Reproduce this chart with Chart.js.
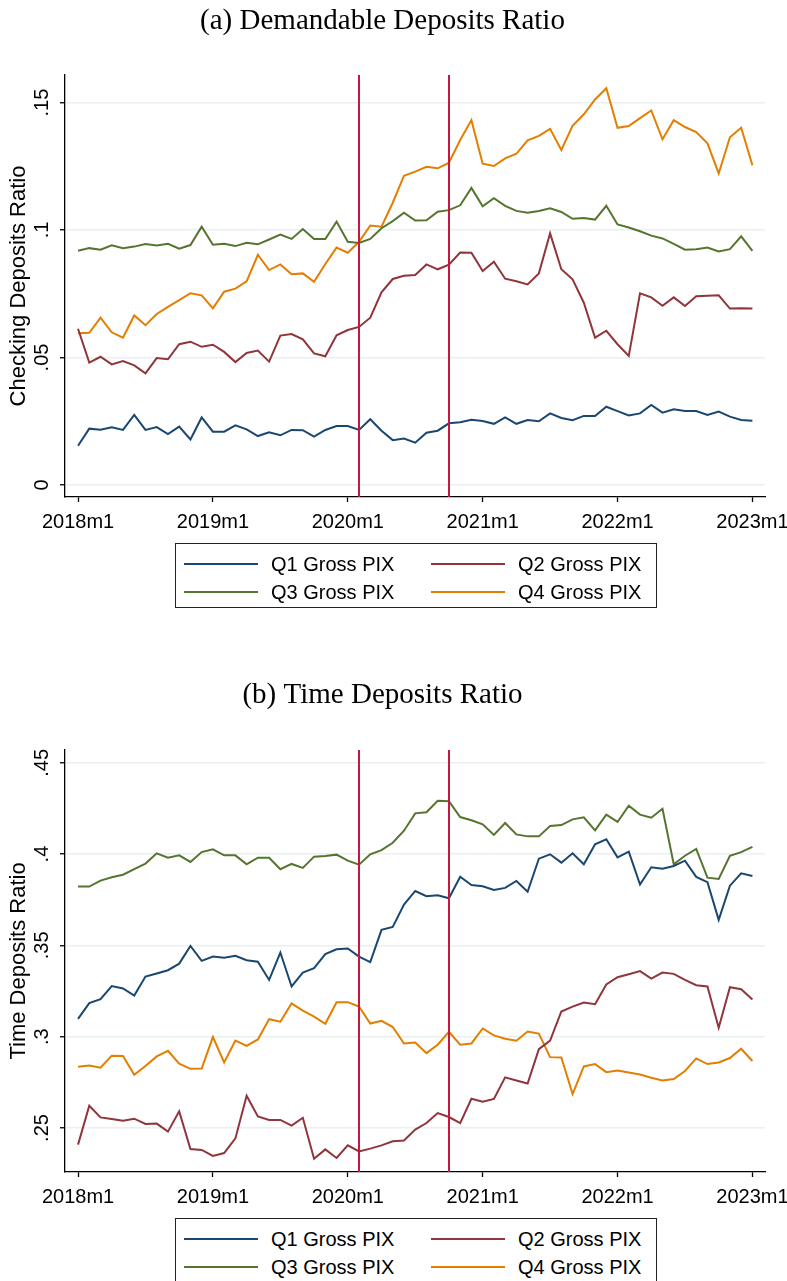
<!DOCTYPE html>
<html>
<head>
<meta charset="utf-8">
<script src="https://cdn.jsdelivr.net/npm/chart.js@4.4.1/dist/chart.umd.min.js"></script>
<style>
  body { margin: 0; background: #fff; }
  #page { position: relative; width: 787px; height: 1281px; overflow: hidden; background: #fff; }
  canvas { position: absolute; left: 0; }
  .legend {
    position: absolute; left: 175px; width: 482px; height: 65px;
    box-sizing: border-box; border: 1px solid #222;
    padding: 6px 0 0 8px;
    display: grid; grid-template-columns: 247px 226px; grid-auto-rows: 28px;
    font-family: "Liberation Sans", Arial, sans-serif; font-size: 20px; color: #000;
  }
  .legend-item { display: flex; align-items: center; white-space: nowrap; }
  .swatch { display: inline-block; width: 74px; height: 2px; margin-right: 13px; }
</style>
</head>
<body>
<div id="page">
  <canvas id="checking" width="787" height="545" style="top:0"></canvas>
  <div class="legend" id="legend-checking" style="top:543px"></div>
  <canvas id="time" width="787" height="575" style="top:640px"></canvas>
  <div class="legend" id="legend-time" style="top:1218px"></div>
</div>
<script>
// months since 2018m1 (0 .. 60)
const xTickMonths = [0, 12, 24, 36, 48, 60];
const xTickLabels = ["2018m1", "2019m1", "2020m1", "2021m1", "2022m1", "2023m1"];
const pixLines = [25, 33];
const seriesNames = ["Q1 Gross PIX", "Q2 Gross PIX", "Q3 Gross PIX", "Q4 Gross PIX"];
const seriesColors = ["#1a476f", "#90353b", "#55752f", "#e37e00"];

const checkingTicks = [0, 0.05, 0.1, 0.15];
const timeTicks = [0.25, 0.3, 0.35, 0.4, 0.45];

const checkingQ1 = [0.0154, 0.0221, 0.0217, 0.0226, 0.0216, 0.0275, 0.0216, 0.0227, 0.0200, 0.0229,
  0.0179, 0.0265, 0.0209, 0.0209, 0.0234, 0.0218, 0.0192, 0.0207, 0.0195, 0.0216,
  0.0215, 0.0190, 0.0216, 0.0231, 0.0231, 0.0216, 0.0258, 0.0213, 0.0176, 0.0182,
  0.0166, 0.0205, 0.0213, 0.0242, 0.0246, 0.0256, 0.0251, 0.0240, 0.0265, 0.0240,
  0.0255, 0.0250, 0.0281, 0.0263, 0.0254, 0.0271, 0.0271, 0.0307, 0.0290, 0.0273,
  0.0281, 0.0314, 0.0284, 0.0297, 0.0290, 0.0290, 0.0275, 0.0288, 0.0268, 0.0255,
  0.0252];
const checkingQ2 = [0.0613, 0.0480, 0.0503, 0.0473, 0.0486, 0.0469, 0.0438, 0.0498, 0.0493, 0.0552,
  0.0562, 0.0542, 0.0550, 0.0522, 0.0482, 0.0518, 0.0527, 0.0484, 0.0586, 0.0592,
  0.0571, 0.0516, 0.0505, 0.0587, 0.0608, 0.0620, 0.0656, 0.0756, 0.0808, 0.0821,
  0.0824, 0.0865, 0.0846, 0.0864, 0.0912, 0.0911, 0.0839, 0.0876, 0.0809, 0.0799,
  0.0787, 0.0830, 0.0987, 0.0846, 0.0807, 0.0715, 0.0578, 0.0605, 0.0552, 0.0506,
  0.0752, 0.0736, 0.0703, 0.0736, 0.0702, 0.0740, 0.0742, 0.0744, 0.0692, 0.0693,
  0.0692];
const checkingQ3 = [0.0919, 0.0929, 0.0923, 0.0940, 0.0929, 0.0935, 0.0945, 0.0939, 0.0946, 0.0927,
  0.0941, 0.1013, 0.0942, 0.0946, 0.0937, 0.0950, 0.0944, 0.0963, 0.0982, 0.0965,
  0.1004, 0.0965, 0.0965, 0.1033, 0.0954, 0.0949, 0.0965, 0.1007, 0.1035, 0.1068,
  0.1037, 0.1038, 0.1072, 0.1078, 0.1097, 0.1165, 0.1093, 0.1125, 0.1095, 0.1075,
  0.1068, 0.1075, 0.1085, 0.1071, 0.1044, 0.1047, 0.1041, 0.1095, 0.1022, 0.1010,
  0.0995, 0.0978, 0.0967, 0.0946, 0.0923, 0.0925, 0.0931, 0.0916, 0.0925, 0.0975,
  0.0918];
const checkingQ4 = [0.0595, 0.0597, 0.0656, 0.0599, 0.0578, 0.0665, 0.0627, 0.0671, 0.0699, 0.0725,
  0.0752, 0.0744, 0.0693, 0.0758, 0.0770, 0.0799, 0.0903, 0.0843, 0.0865, 0.0827,
  0.0830, 0.0797, 0.0867, 0.0931, 0.0911, 0.0954, 0.1018, 0.1013, 0.1107, 0.1213,
  0.1229, 0.1248, 0.1242, 0.1264, 0.1353, 0.1431, 0.1260, 0.1251, 0.1281, 0.1299,
  0.1352, 0.1369, 0.1397, 0.1314, 0.1409, 0.1454, 0.1512, 0.1556, 0.1401, 0.1408,
  0.1439, 0.1469, 0.1356, 0.1431, 0.1404, 0.1384, 0.1340, 0.1222, 0.1364, 0.1401,
  0.1254];

const timeQ1 = [0.3098, 0.3184, 0.3206, 0.3277, 0.3264, 0.3225, 0.3329, 0.3346, 0.3364, 0.3400,
  0.3497, 0.3415, 0.3439, 0.3433, 0.3443, 0.3419, 0.3411, 0.3311, 0.3461, 0.3275,
  0.3351, 0.3375, 0.3452, 0.3479, 0.3483, 0.3439, 0.3408, 0.3585, 0.3601, 0.3723,
  0.3798, 0.3769, 0.3775, 0.3758, 0.3876, 0.3831, 0.3824, 0.3804, 0.3815, 0.3853,
  0.3794, 0.3975, 0.3999, 0.3953, 0.4004, 0.3944, 0.4054, 0.4081, 0.3982, 0.4013,
  0.3833, 0.3928, 0.3920, 0.3935, 0.3964, 0.3875, 0.3846, 0.3640, 0.3827, 0.3895,
  0.3880];
const timeQ2 = [0.2409, 0.2622, 0.2558, 0.2549, 0.2540, 0.2551, 0.2522, 0.2524, 0.2480, 0.2591,
  0.2385, 0.2380, 0.2347, 0.2363, 0.2443, 0.2677, 0.2563, 0.2544, 0.2544, 0.2513,
  0.2556, 0.2332, 0.2383, 0.2336, 0.2405, 0.2372, 0.2387, 0.2405, 0.2427, 0.2432,
  0.2491, 0.2527, 0.2582, 0.2560, 0.2527, 0.2660, 0.2644, 0.2659, 0.2777, 0.2760,
  0.2744, 0.2932, 0.2979, 0.3138, 0.3165, 0.3187, 0.3178, 0.3286, 0.3326, 0.3342,
  0.3359, 0.3318, 0.3351, 0.3344, 0.3311, 0.3282, 0.3275, 0.3049, 0.3271, 0.3260,
  0.3204];
const timeQ3 = [0.3822, 0.3822, 0.3855, 0.3873, 0.3887, 0.3918, 0.3948, 0.4004, 0.3980, 0.3993,
  0.3957, 0.4011, 0.4026, 0.3993, 0.3993, 0.3944, 0.3980, 0.3980, 0.3917, 0.3946,
  0.3924, 0.3986, 0.3990, 0.3997, 0.3964, 0.3942, 0.3999, 0.4022, 0.4062, 0.4128,
  0.4223, 0.4229, 0.4292, 0.4290, 0.4203, 0.4185, 0.4163, 0.4105, 0.4170, 0.4108,
  0.4097, 0.4097, 0.4154, 0.4159, 0.4190, 0.4201, 0.4130, 0.4216, 0.4176, 0.4265,
  0.4216, 0.4199, 0.4248, 0.3944, 0.3991, 0.4028, 0.3871, 0.3864, 0.3990, 0.4011,
  0.4040];
const timeQ4 = [0.2835, 0.2842, 0.2830, 0.2896, 0.2894, 0.2792, 0.2839, 0.2892, 0.2923, 0.2852,
  0.2824, 0.2826, 0.2998, 0.2859, 0.2979, 0.2950, 0.2985, 0.3096, 0.3082, 0.3182,
  0.3143, 0.3110, 0.3071, 0.3189, 0.3189, 0.3165, 0.3072, 0.3087, 0.3053, 0.2963,
  0.2968, 0.2910, 0.2956, 0.3027, 0.2956, 0.2963, 0.3045, 0.3007, 0.2989, 0.2978,
  0.3028, 0.3017, 0.2888, 0.2886, 0.2686, 0.2837, 0.2850, 0.2806, 0.2815, 0.2804,
  0.2793, 0.2775, 0.2760, 0.2768, 0.2812, 0.2881, 0.2850, 0.2859, 0.2883, 0.2934,
  0.2867];

const sans = "'Liberation Sans', Arial, sans-serif";
const serif = "'Liberation Serif', 'Times New Roman', serif";

// Stata style: ".05" instead of "0.05"
const stataNum = (v) => (v === 0 ? "0" : String(+v.toFixed(3)).replace(/^0\./, "."));

const pixLinePlugin = {
  id: "pixLines",
  afterDatasetsDraw(chart) {
    const { ctx, chartArea, scales } = chart;
    ctx.save();
    ctx.strokeStyle = "#c8163f";
    ctx.lineWidth = 2;
    pixLines.forEach((m) => {
      const x = Math.round(scales.x.getPixelForValue(m));
      ctx.beginPath();
      ctx.moveTo(x, chartArea.top);
      ctx.lineTo(x, chartArea.bottom);
      ctx.stroke();
    });
    ctx.restore();
  },
};

const buildLegend = (chart, legend) => {
  legend.innerHTML = "";
  chart.data.datasets.forEach((dataset) => {
    const item = document.createElement("div");
    item.className = "legend-item";
    const swatch = document.createElement("span");
    swatch.className = "swatch";
    swatch.style.background = dataset.borderColor;
    item.appendChild(swatch);
    item.appendChild(document.createTextNode(dataset.label));
    legend.appendChild(item);
  });
};

const makeChart = (canvasId, legendId, cfg) => {
  const chart = new Chart(document.getElementById(canvasId), {
    type: "line",
    data: {
      datasets: cfg.series.map((values, k) => ({
        label: seriesNames[k],
        data: values.map((v, i) => ({ x: i, y: v })),
        borderColor: seriesColors[k],
        backgroundColor: seriesColors[k],
        borderWidth: 2,
        pointRadius: 0,
        tension: 0,
        fill: false,
      })),
    },
    options: {
      responsive: false,
      animation: false,
      devicePixelRatio: 1,
      layout: { padding: { left: 0, right: 22, top: 0, bottom: 0 } },
      plugins: {
        legend: { display: false },
        tooltip: { enabled: false },
        title: {
          display: true,
          text: cfg.title,
          color: "#000",
          font: { family: serif, size: 29, weight: "normal" },
          padding: cfg.titlePad,
        },
      },
      scales: {
        x: {
          type: "linear",
          min: -1.16,
          max: 61.12,
          afterBuildTicks: (axis) => {
            axis.ticks = xTickMonths.map((m) => ({ value: m }));
          },
          afterFit: (axis) => {
            axis.height = cfg.xAxisHeight;
            axis.paddingLeft = 0;
            axis.paddingRight = 0;
          },
          ticks: {
            autoSkip: false,
            maxRotation: 0,
            padding: 8,
            color: "#000",
            font: { family: sans, size: 20 },
            callback: (v) => xTickLabels[xTickMonths.indexOf(v)],
          },
          grid: { drawOnChartArea: false, tickLength: 5, tickColor: "#000", tickWidth: 1.3 },
          border: { display: true, color: "#000", width: 1.3 },
        },
        y: {
          min: cfg.yMin,
          max: cfg.yMax,
          afterBuildTicks: (axis) => {
            axis.ticks = cfg.yTicks.map((v) => ({ value: v }));
          },
          afterFit: (axis) => {
            axis.width = 65;
            axis.paddingTop = 0;
            axis.paddingBottom = 0;
          },
          title: {
            display: true,
            text: cfg.yTitle,
            color: "#000",
            font: { family: sans, size: 22 },
            padding: { top: 6, bottom: 0 },
          },
          ticks: {
            autoSkip: false,
            minRotation: 90,
            maxRotation: 90,
            crossAlign: "center",
            padding: 4,
            color: "#000",
            font: { family: sans, size: 20 },
            callback: (v) => stataNum(v),
          },
          grid: { color: "#e9f0f1", lineWidth: 1.5, tickLength: 5, tickColor: "#000", tickWidth: 1.3 },
          border: { display: true, color: "#000", width: 1.3 },
        },
      },
    },
    plugins: [pixLinePlugin],
  });
  buildLegend(chart, document.getElementById(legendId));
  return chart;
};

makeChart("checking", "legend-checking", {
  title: "(a) Demandable Deposits Ratio",
  titlePad: { top: 3.6, bottom: 36.6 },
  yTitle: "Checking Deposits Ratio",
  series: [checkingQ1, checkingQ2, checkingQ3, checkingQ4],
  yMin: -0.0047,
  yMax: 0.1608,
  yTicks: checkingTicks,
  xAxisHeight: 48,
});

makeChart("time", "legend-time", {
  title: "(b) Time Deposits Ratio",
  titlePad: { top: 37.6, bottom: 37.6 },
  yTitle: "Time Deposits Ratio",
  series: [timeQ1, timeQ2, timeQ3, timeQ4],
  yMin: 0.2259,
  yMax: 0.457,
  yTicks: timeTicks,
  xAxisHeight: 43,
});
</script>
</body>
</html>
